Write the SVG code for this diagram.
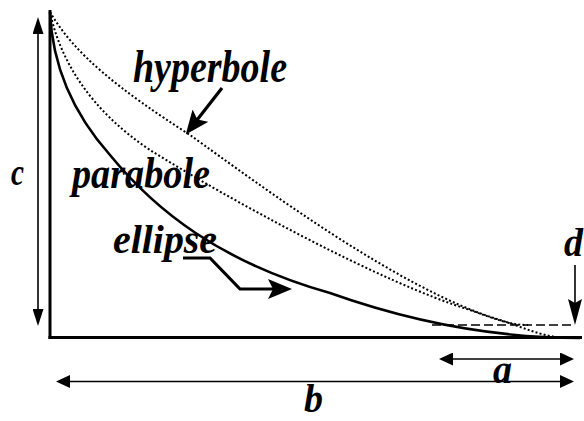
<svg xmlns="http://www.w3.org/2000/svg" width="584" height="421" viewBox="0 0 584 421">
  <style>
    text { font-family: 'Liberation Serif', 'DejaVu Serif', serif; font-style: italic; font-weight: 700; fill: #000; }
    .axis { stroke: #000; stroke-width: 3; fill: none; }
    .thin { stroke: #000; stroke-width: 1.6; fill: none; }
    .thick { stroke: #000; stroke-width: 3.2; fill: none; stroke-linejoin: miter; }
    .dot { stroke: #000; stroke-width: 2; fill: none; stroke-dasharray: 2 2.2; }
    .solid { stroke: #000; stroke-width: 2.6; fill: none; }
    .dash { stroke: #000; stroke-width: 1.4; fill: none; stroke-dasharray: 9 4; }
  </style>
  <defs>
    <marker id="ah" viewBox="0 0 14 13" refX="10" refY="6.5" markerWidth="14" markerHeight="13" markerUnits="userSpaceOnUse" orient="auto-start-reverse">
      <path d="M0,0 L14,6.5 L0,13 z" fill="#000"/>
    </marker>
    <marker id="ahc" viewBox="0 0 17 11" refX="12" refY="5.5" markerWidth="17" markerHeight="11" markerUnits="userSpaceOnUse" orient="auto-start-reverse">
      <path d="M0,0 L17,5.5 L0,11 z" fill="#000"/>
    </marker>
    <marker id="ahd" viewBox="0 0 26 14" refX="20" refY="7" markerWidth="26" markerHeight="14" markerUnits="userSpaceOnUse" orient="auto">
      <path d="M0,0 L26,7 L0,14 L4,7 z" fill="#000"/>
    </marker>
    <marker id="ahb" viewBox="0 0 24 20" refX="12" refY="10" markerWidth="24" markerHeight="20" markerUnits="userSpaceOnUse" orient="auto">
      <path d="M0,0 L24,10 L0,20 L5,10 z" fill="#000"/>
    </marker>
  </defs>

  <g id="axes">
    <line class="axis" x1="50" y1="10" x2="50" y2="339"/>
    <line class="axis" x1="48.5" y1="337.5" x2="582" y2="337.5"/>
  </g>

  <g id="curves">
    <path id="ellipse-curve" class="solid" d="M50,12 C52,60 70,110 110,155 C155,210 220,262 330,293 C420,325 500,338 580,338"/>
    <path id="parabole-curve" class="dot" d="M50,12 C60,60 90,110 150,150 C230,200 380,282 470,310 C495,319 510,325 528,325"/>
    <path id="hyperbole-curve" class="dot" d="M50,12 C75,55 120,90 190,135 C260,185 400,290 500,320 C525,328 540,336 565,338"/>
    <line id="d-level" class="dash" x1="432" y1="325" x2="575" y2="325"/>
  </g>

  <g id="connectors">
    <line id="c-arrow" class="thin" x1="38" y1="22" x2="38" y2="321" marker-start="url(#ahc)" marker-end="url(#ahc)"/>
    <line id="b-arrow" class="thin" x1="60" y1="381.5" x2="570" y2="381.5" marker-start="url(#ah)" marker-end="url(#ah)"/>
    <line id="a-arrow" class="thin" x1="443" y1="359" x2="570" y2="359" marker-start="url(#ah)" marker-end="url(#ah)"/>
    <line id="d-arrow" class="thin" x1="575" y1="265" x2="575" y2="319" marker-end="url(#ahd)"/>
    <line id="hyperbole-arrow" class="thick" x1="222" y1="88" x2="193.1" y2="125.1" marker-end="url(#ahb)"/>
    <polyline id="ellipse-arrow" class="thick" points="183,258 210,258 240,289 280,289" marker-end="url(#ahb)"/>
  </g>

  <g id="label-hyperbole"><text font-family="Liberation Serif, serif" x="133" y="82" font-size="46" textLength="154" lengthAdjust="spacingAndGlyphs">hyperbole</text></g>
  <g id="label-parabole"><text font-family="Liberation Serif, serif" x="72" y="188" font-size="44" textLength="138" lengthAdjust="spacingAndGlyphs">parabole</text></g>
  <g id="label-ellipse"><text font-family="Liberation Serif, serif" x="113" y="253" font-size="40" textLength="104" lengthAdjust="spacingAndGlyphs">ellipse</text></g>
  <g id="label-c"><text font-family="Liberation Serif, serif" x="11" y="185" font-size="38" textLength="13" lengthAdjust="spacingAndGlyphs">c</text></g>
  <g id="label-d"><text font-family="Liberation Serif, serif" x="564" y="256" font-size="40" textLength="19" lengthAdjust="spacingAndGlyphs">d</text></g>
  <g id="label-a"><text font-family="Liberation Serif, serif" x="493" y="383" font-size="40" textLength="19" lengthAdjust="spacingAndGlyphs">a</text></g>
  <g id="label-b"><text font-family="Liberation Serif, serif" x="304" y="412" font-size="40" textLength="19" lengthAdjust="spacingAndGlyphs">b</text></g>
</svg>
